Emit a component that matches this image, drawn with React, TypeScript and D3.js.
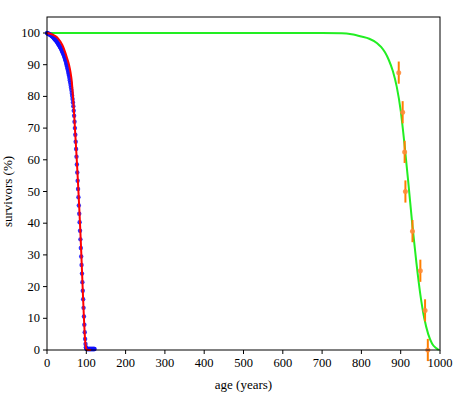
import React from 'react';
import * as d3 from 'd3';

// observed human survival, one value per year of age (0..121)
const humanAges = d3.range(0, 122);
const humanSurvival = [
  100, 99.9, 99.85, 99.8, 99.75, 99.7, 99.6, 99.55, 99.5, 99.4,
  99.3, 99.2, 99.1, 99.0, 98.9, 98.8, 98.65, 98.5, 98.35, 98.2,
  98.0, 97.9, 97.8, 97.6, 97.5, 97.3, 97.1, 96.9, 96.7, 96.5,
  96.3, 96.1, 95.9, 95.7, 95.5, 95.2, 95.0, 94.7, 94.4, 94.2,
  93.9, 93.6, 93.3, 92.9, 92.6, 92.2, 91.8, 91.4, 90.9, 90.4,
  89.9, 89.4, 88.9, 88.3, 87.7, 87.1, 86.5, 85.8, 85.1, 84.4,
  83.6, 82.8, 82.0, 81.1, 80.2, 79.2, 78.1, 76.9, 75.5, 73.9,
  72.0, 70.0, 67.9, 65.7, 63.4, 61.0, 58.5, 56.0, 53.4, 50.8,
  48.2, 45.6, 43.0, 40.3, 37.6, 34.9, 32.2, 29.5, 26.8, 24.1,
  21.4, 18.7, 16.0, 13.3, 10.6, 8.0, 5.6, 3.5, 1.9, 0.9,
  0.5, 0.4, 0.3, 0.3, 0.3, 0.3, 0.3, 0.3, 0.3, 0.3,
  0.3, 0.3, 0.3, 0.3, 0.3, 0.3, 0.3, 0.3, 0.3, 0.3,
  0.3, 0.3,
];

// fitted curve for humans
const humanFitAges = [0, 10, 20, 28, 39, 50, 56, 60, 63, 66, 68, 70, 72, 74, 76, 78, 80, 82, 84, 86, 88, 90, 92, 94, 96, 98, 100, 102, 105, 112];
const humanFitValues = [100, 99.7, 99.1, 98.3, 96.2, 92.5, 90.0, 87.5, 84.8, 80.0, 76.5, 72.3, 68.0, 63.8, 59.4, 54.8, 50.0, 45.0, 39.8, 34.2, 28.2, 22.0, 15.8, 10.0, 5.0, 1.7, 0.4, 0.05, 0, 0];

// fitted curve for the patriarchs
const patriarchFitAges = [0, 600, 700, 750, 775, 800, 820, 840, 850, 860, 870, 880, 890, 900, 910, 920, 930, 940, 950, 960, 970, 980, 990, 997];
const patriarchFitValues = [100, 100, 99.99, 99.9, 99.6, 98.9, 98.2, 96.8, 95.6, 93.9, 91.4, 88.0, 83.0, 75.5, 64.5, 52.0, 39.0, 27.5, 17.5, 10.0, 5.0, 2.0, 0.6, 0];

// patriarchs: age at death and survivors
const patriarchAges = [895, 905, 910, 912, 930, 950, 962, 969];
const patriarchSurvival = [87.5, 75, 62.5, 50, 37.5, 25, 12.5, 0];
const patriarchError = [3.5, 3.5, 3.5, 3.5, 3.5, 3.5, 3.5, 3.5];

const xTicks = d3.range(0, 1001, 100);
const yTicks = d3.range(0, 101, 10);

const W = 459;
const H = 396;
const margin = { left: 47, right: 19, top: 17, bottom: 46 };
const FONT = '"Liberation Serif", "DejaVu Serif", serif';

export default function App() {
  const x = d3.scaleLinear().domain([0, 1000]).range([margin.left, W - margin.right]);
  const y = d3.scaleLinear().domain([0, 100]).range([H - margin.bottom, 33]);
  const yTop = margin.top;

  const line = d3.line<[number, number]>()
    .x(d => x(d[0]))
    .y(d => y(d[1]))
    .curve(d3.curveMonotoneX);

  const humanFit = humanFitAges.map((a, i) => [a, humanFitValues[i]] as [number, number]);
  const patriarchFit = patriarchFitAges.map((a, i) => [a, patriarchFitValues[i]] as [number, number]);

  const x0 = x(0), x1 = x(1000), yB = y(0);

  return (
    <svg width={W} height={H} style={{ position: 'fixed', left: 0, top: 0, background: '#fff' }}>
      <path d={line(patriarchFit) || ''} fill="none" stroke="#22ee22" strokeWidth={2} />

      {humanAges.map((a, i) => (
        <circle key={'h' + a} cx={x(a)} cy={y(humanSurvival[i])} r={2.2} fill="#1010ff" opacity={0.85} />
      ))}

      <path d={line(humanFit) || ''} fill="none" stroke="#ff0000" strokeWidth={2} />

      {patriarchAges.map((a, i) => (
        <g key={'p' + a}>
          <line x1={x(a)} x2={x(a)}
            y1={y(patriarchSurvival[i] + patriarchError[i])}
            y2={y(patriarchSurvival[i] - patriarchError[i])}
            stroke="#ff7f00" strokeWidth={2} />
          <circle cx={x(a)} cy={y(patriarchSurvival[i])} r={2.5} fill="#ff8c3a" opacity={0.9} />
        </g>
      ))}

      {/* frame */}
      <rect x={x0} y={yTop} width={x1 - x0} height={yB - yTop} fill="none" stroke="#000" strokeWidth={1} />

      {xTicks.map(t => (
        <g key={'xt' + t}>
          <line x1={x(t)} x2={x(t)} y1={yB} y2={yB + 4} stroke="#000" />
          <text x={x(t)} y={yB + 17} textAnchor="middle" fontFamily={FONT} fontSize={12.5} fill="#000">{t}</text>
        </g>
      ))}
      {yTicks.map(t => (
        <g key={'yt' + t}>
          <line x1={x0 - 4} x2={x0} y1={y(t)} y2={y(t)} stroke="#000" />
          <text x={x0 - 7} y={y(t) + 4} textAnchor="end" fontFamily={FONT} fontSize={12.5} fill="#000">{t}</text>
        </g>
      ))}

      <text x={(x0 + x1) / 2} y={389} textAnchor="middle" fontFamily={FONT} fontSize={13} fill="#000">age (years)</text>
      <text transform={`translate(12,${(yTop + yB) / 2 + 8}) rotate(-90)`} textAnchor="middle" fontFamily={FONT} fontSize={13} fill="#000">survivors (%)</text>
    </svg>
  );
}
